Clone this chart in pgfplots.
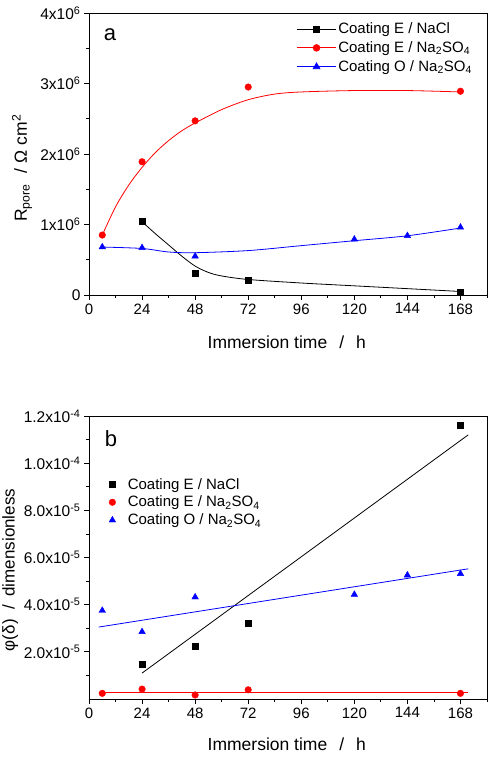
\documentclass[border=0pt]{standalone}
\usepackage{fontspec}
\setmainfont{Liberation Sans}
\usepackage{pgfplots}
\pgfplotsset{compat=1.18}
\begin{document}
\begin{tikzpicture}
\useasboundingbox (0,0) rectangle (493pt,766pt);
\pgfplotsset{
 common/.style={
  scale only axis, width=398pt,
  xmin=0, xmax=180,
  xtick={0,24,48,72,96,120,144,168},
  minor xtick={12,36,60,84,108,132,156,180},
  xticklabels={0,24,48,72,96,120,144,168},
  scaled y ticks=false,
  tick pos=left, tick align=outside,
  major tick length=5pt, minor tick length=3pt,
  xticklabel style={font=\fontsize{15}{18}\selectfont},
  yticklabel style={font=\fontsize{15.5}{18}\selectfont},
  axis line style={line width=0.8pt},
  every tick/.style={black, line width=0.8pt},
  every minor tick/.style={black, line width=0.8pt},
  xlabel={Immersion time\hspace{12pt}/\hspace{12pt}h},
 }
}
% ---------------- panel a ----------------
\begin{axis}[common, at={(89pt,471pt)}, anchor=south west, height=282pt,
  ymin=0, ymax=4e6,
  ytick={0,1e6,2e6,3e6,4e6},
  minor ytick={0.5e6,1.5e6,2.5e6,3.5e6},
  yticklabels={0,1x10\textsuperscript{6},2x10\textsuperscript{6},3x10\textsuperscript{6},4x10\textsuperscript{6}},
  ylabel={R\textsubscript{pore}\hspace{10pt}/\hspace{6pt}Ω cm\textsuperscript{2}},
  every axis y label/.style={at={(axis description cs:-0.168,0.45)}, rotate=90, anchor=center, font=\fontsize{17.5}{20}\selectfont},
  every axis x label/.style={at={(axis description cs:0.497,-0.167)}, anchor=center, font=\fontsize{17.5}{20}\selectfont},
  legend style={at={(0.975,0.98)}, anchor=north east, draw=none, fill=none,
    font=\fontsize{15}{18}\selectfont, row sep=2.5pt},
  legend cell align=left,
  legend image code/.code={\draw[mark repeat=2,mark phase=2,#1] plot coordinates {(0cm,0cm) (0.68cm,0cm) (1.36cm,0cm)};},
]
\addplot[black, line width=0.8pt, smooth, forget plot] coordinates {
 (24,1.04e6) (30,0.87e6) (36,0.71e6) (42,0.55e6) (48,0.41e6) (54,0.32e6) (60,0.27e6) (72,0.22e6) (96,0.17e6) (120,0.13e6) (144,0.09e6) (168,0.05e6)};
\addplot[black, only marks, mark=square*, mark size=3pt, forget plot] coordinates {
 (24,1.04e6) (48,0.31e6) (72,0.21e6) (168,0.04e6)};
\addplot[red, line width=0.8pt, smooth, forget plot] coordinates {
 (6,0.85e6) (12,1.25e6) (18,1.56e6) (24,1.81e6) (30,2.02e6) (36,2.19e6) (42,2.33e6) (48,2.44e6) (60,2.63e6) (72,2.77e6) (84,2.85e6) (96,2.88e6) (120,2.90e6) (144,2.90e6) (168,2.88e6)};
\addplot[red, only marks, mark=*, mark size=3.3pt, forget plot] coordinates {
 (6,0.85e6) (24,1.89e6) (48,2.47e6) (72,2.95e6) (168,2.89e6)};
\addplot[blue, line width=0.8pt, smooth, forget plot] coordinates {
 (6,0.68e6) (24,0.66e6) (36,0.61e6) (48,0.60e6) (72,0.63e6) (96,0.70e6) (120,0.77e6) (144,0.84e6) (168,0.95e6)};
\addplot[blue, only marks, mark=triangle*, mark size=3.8pt, forget plot] coordinates {
 (6,0.68e6) (24,0.67e6) (48,0.55e6) (120,0.79e6) (144,0.84e6) (168,0.96e6)};
\addlegendimage{black, line width=0.8pt, mark=square*, mark size=3pt}
\addlegendentry{Coating E / NaCl}
\addlegendimage{red, line width=0.8pt, mark=*, mark size=3.3pt}
\addlegendentry{Coating E / Na\textsubscript{2}SO\textsubscript{4}}
\addlegendimage{blue, line width=0.8pt, mark=triangle*, mark size=3.8pt}
\addlegendentry{Coating O / Na\textsubscript{2}SO\textsubscript{4}}
\node[font=\fontsize{22}{26}\selectfont] at (rel axis cs:0.053,0.922) {a};
\end{axis}
% ---------------- panel b ----------------
\begin{axis}[common, at={(89pt,67pt)}, anchor=south west, height=283pt,
  ymin=0, ymax=1.2e-4,
  ytick={2e-5,4e-5,6e-5,8e-5,1e-4,1.2e-4},
  minor ytick={1e-5,3e-5,5e-5,7e-5,9e-5,1.1e-4},
  yticklabels={2.0x10\textsuperscript{-5},4.0x10\textsuperscript{-5},6.0x10\textsuperscript{-5},8.0x10\textsuperscript{-5},1.0x10\textsuperscript{-4},1.2x10\textsuperscript{-4}},
  ylabel={φ(δ)\hspace{10pt}/\hspace{8pt}dimensionless},
  every axis y label/.style={at={(axis description cs:-0.198,0.456)}, rotate=90, anchor=center, font=\fontsize{17}{20}\selectfont},
  every axis x label/.style={at={(axis description cs:0.497,-0.159)}, anchor=center, font=\fontsize{17.5}{20}\selectfont},
  legend style={at={(0.04,0.795)}, anchor=north west, draw=none, fill=none,
    font=\fontsize{15}{18}\selectfont, row sep=1.5pt},
  legend cell align=left,
  legend image code/.code={\path[draw=none,fill=none] (0cm,0cm) -- (0.62cm,0cm); \draw[#1] plot coordinates {(0.15cm,0cm)};},
]
\addplot[black, line width=0.8pt, forget plot] coordinates {(24,1.1e-5) (171.5,1.12e-4)};
\addplot[red, line width=0.8pt, forget plot] coordinates {(4.4,0.29e-5) (171.5,0.29e-5)};
\addplot[blue, line width=0.8pt, forget plot] coordinates {(4.4,3.05e-5) (171.5,5.52e-5)};
\addplot[black, only marks, mark=square*, mark size=3pt, forget plot] coordinates {
 (24,1.46e-5) (48,2.25e-5) (72,3.23e-5) (168,1.16e-4)};
\addplot[red, only marks, mark=*, mark size=3.3pt, forget plot] coordinates {
 (6,0.24e-5) (24,0.42e-5) (48,0.17e-5) (72,0.39e-5) (168,0.24e-5)};
\addplot[blue, only marks, mark=triangle*, mark size=3.8pt, forget plot] coordinates {
 (6,3.75e-5) (24,2.85e-5) (48,4.32e-5) (120,4.43e-5) (144,5.25e-5) (168,5.31e-5)};
\addlegendimage{black, only marks, mark=square*, mark size=3pt}
\addlegendentry{Coating E / NaCl}
\addlegendimage{red, only marks, mark=*, mark size=3.3pt}
\addlegendentry{Coating E / Na\textsubscript{2}SO\textsubscript{4}}
\addlegendimage{blue, only marks, mark=triangle*, mark size=3.8pt}
\addlegendentry{Coating O / Na\textsubscript{2}SO\textsubscript{4}}
\node[font=\fontsize{22}{26}\selectfont] at (rel axis cs:0.055,0.919) {b};
\end{axis}
\end{tikzpicture}
\end{document}
